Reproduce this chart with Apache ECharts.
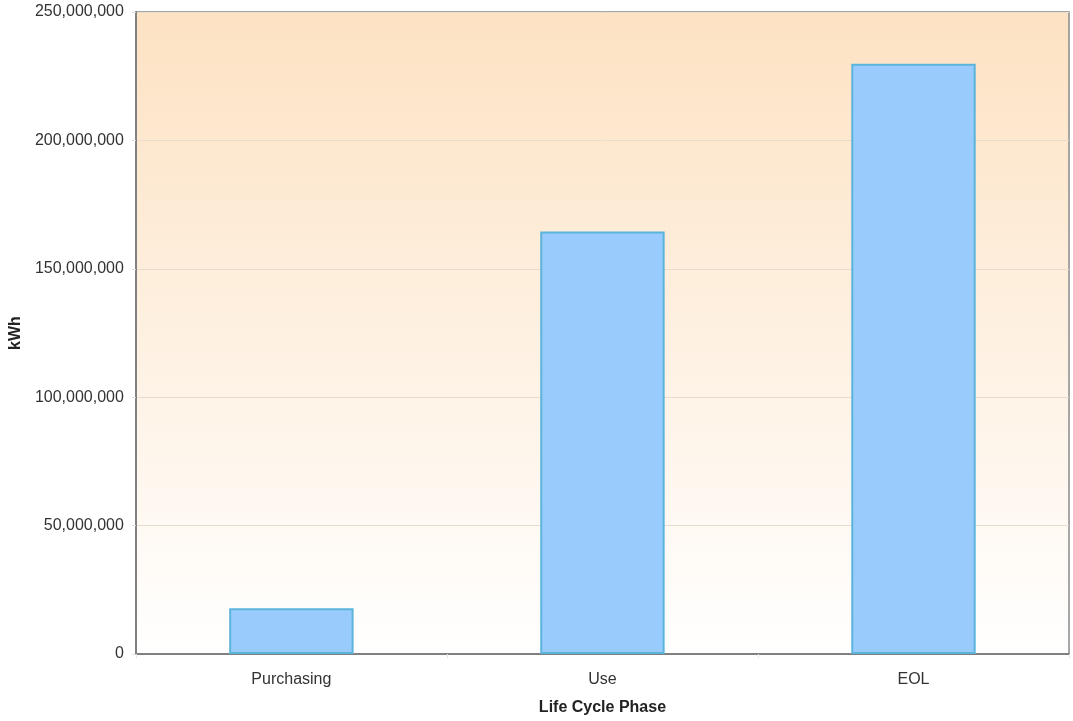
<!DOCTYPE html>
<html>
<head>
<meta charset="utf-8">
<script src="https://cdn.jsdelivr.net/npm/echarts@6/dist/echarts.min.js"></script>
<style>
	html, body { margin: 0; padding: 0; background: #fff; }
	#chart { width: 1073px; height: 721px; }
</style>
</head>
<body>
<div id="chart"></div>
<script>
	var phases = [ 'Purchasing', 'Use', 'EOL' ];
	var energy = [ 17800000, 164500000, 229800000 ];
	var yTicks = [ 0, 50000000, 100000000, 150000000, 200000000, 250000000 ];

	var chart = echarts.init(document.getElementById('chart'));
	var options = {
		animation : false,
		textStyle : {
			fontFamily : 'Liberation Sans, Arial, sans-serif'
		},
		grid : {
			left : 133,
			right : 4,
			top : 12,
			bottom : 67,
			show : true,
			borderColor : '#8a8a8a',
			borderWidth : 1.5,
			backgroundColor : new echarts.graphic.LinearGradient(0, 0, 0, 1, [ {
				offset : 0,
				color : '#fde2c3'
			}, {
				offset : 1,
				color : '#ffffff'
			} ])
		},
		xAxis : {
			type : 'category',
			data : phases,
			name : 'Life Cycle Phase',
			nameLocation : 'middle',
			nameGap : 46,
			nameTextStyle : {
				fontSize : 16,
				fontWeight : 'bold',
				color : '#222'
			},
			axisLine : {
				lineStyle : {
					color : '#808080',
					width : 2
				}
			},
			axisTick : {
				show : true,
				alignWithLabel : false,
				length : 4,
				lineStyle : {
					color : '#e6e6e6'
				}
			},
			axisLabel : {
				fontSize : 16,
				color : '#333',
				margin : 18
			}
		},
		yAxis : {
			type : 'value',
			min : yTicks[0],
			max : yTicks[yTicks.length - 1],
			interval : yTicks[1] - yTicks[0],
			name : 'kWh',
			nameLocation : 'middle',
			nameGap : 110,
			nameTextStyle : {
				fontSize : 16,
				fontWeight : 'bold',
				color : '#222'
			},
			axisLine : {
				show : true,
				lineStyle : {
					color : '#808080',
					width : 2
				}
			},
			axisTick : {
				show : true,
				length : 4,
				lineStyle : {
					color : '#e0e0e0'
				}
			},
			splitLine : {
				lineStyle : {
					color : '#eadccd'
				}
			},
			axisLabel : {
				fontSize : 16,
				color : '#333',
				margin : 12,
				formatter : function(v) {
					return v.toLocaleString('en-US');
				}
			}
		},
		series : [ {
			type : 'bar',
			data : energy,
			barWidth : '40%',
			itemStyle : {
				color : '#99ccfc',
				borderColor : '#5bb4dc',
				borderWidth : 2
			}
		} ]
	};
	chart.setOption(options);
</script>
</body>
</html>
